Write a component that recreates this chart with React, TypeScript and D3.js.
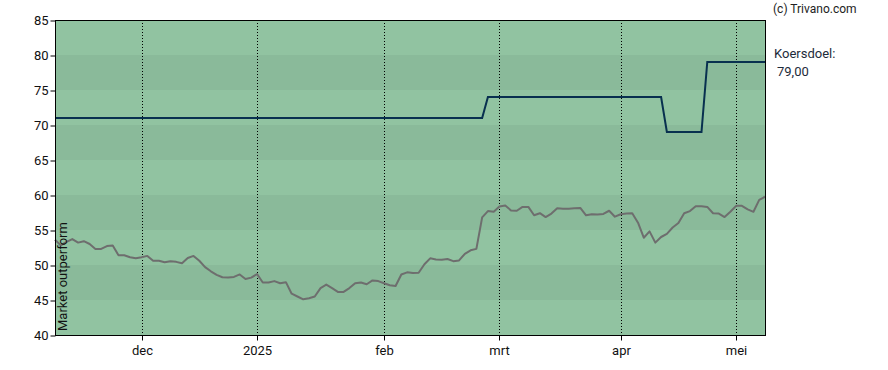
import React, { useEffect, useRef } from "react";
import * as d3 from "d3";

// one value per trading day (index 0 .. 123)
const priceValues = [
  53.6, 52.8, 53.3, 53.7, 53.2, 53.4, 53.0, 52.3, 52.3, 52.7,
  52.8, 51.4, 51.4, 51.1, 50.95, 51.1, 51.3, 50.6, 50.6, 50.4,
  50.55, 50.45, 50.25, 51.0, 51.3, 50.6, 49.7, 49.1, 48.6, 48.25,
  48.2, 48.3, 48.65, 48.0, 48.2, 48.7, 47.5, 47.5, 47.7, 47.4,
  47.55, 45.9, 45.5, 45.1, 45.25, 45.5, 46.7, 47.2, 46.7, 46.15,
  46.15, 46.7, 47.4, 47.5, 47.25, 47.8, 47.7, 47.4, 47.1, 47.0,
  48.65, 48.95, 48.85, 48.9, 50.1, 50.95, 50.8, 50.75, 50.85, 50.55,
  50.65, 51.6, 52.1, 52.3, 56.8, 57.7, 57.6, 58.35, 58.5, 57.8,
  57.75, 58.3, 58.3, 57.1, 57.4, 56.85, 57.35, 58.1, 58.05, 58.05,
  58.1, 58.15, 57.1, 57.25, 57.2, 57.3, 57.75, 56.9, 57.25, 57.35,
  57.4, 56.05, 53.9, 54.8, 53.2, 54.0, 54.45, 55.35, 56.0, 57.4,
  57.7, 58.4, 58.4, 58.3, 57.4, 57.35, 56.85, 57.6, 58.45, 58.45,
  57.95, 57.6, 59.3, 59.75,
];

// koersdoel (price target) change points: trading day index, value
const targetDays = [0, 74, 75, 105, 106, 112, 113, 123];
const targetValues = [71, 71, 74, 74, 69, 69, 79, 79];

const monthTickDays = [15, 35, 57, 77, 98, 118];
const monthLabels = ["dec", "2025", "feb", "mrt", "apr", "mei"];
const yTicks = [40, 45, 50, 55, 60, 65, 70, 75, 80, 85];

const lastTarget = "79,00";

export default function App() {
  const ref = useRef<SVGSVGElement>(null);

  useEffect(() => {
    const svg = d3.select(ref.current);
    svg.selectAll("*").remove();

    const left = 55, right = 765, top = 20, bottom = 335;
    const font = "Roboto, Arial, sans-serif";

    const x = d3.scaleLinear().domain([0, priceValues.length - 1]).range([left, right]);
    const y = d3.scaleLinear().domain([40, 85]).range([bottom, top]);

    // alternating horizontal bands
    const bands = d3.range(40, 85, 5);
    svg.selectAll(".band").data(bands).join("rect")
      .attr("class", "band")
      .attr("x", left)
      .attr("width", right - left)
      .attr("y", d => y(d + 5))
      .attr("height", d => y(d) - y(d + 5))
      .attr("fill", (d, i) => (i % 2 === 0 ? "#91c3a1" : "#8aba9a"));

    // dotted month gridlines
    svg.selectAll(".grid").data(monthTickDays).join("line")
      .attr("class", "grid")
      .attr("x1", d => Math.round(x(d)) + 0.5)
      .attr("x2", d => Math.round(x(d)) + 0.5)
      .attr("y1", top)
      .attr("y2", bottom)
      .attr("stroke", "#000")
      .attr("stroke-width", 1)
      .attr("stroke-dasharray", "1,2");

    // target line
    const targetLine = d3.line<number>()
      .x((d, i) => x(targetDays[i]))
      .y(d => y(d));
    svg.append("path")
      .attr("d", targetLine(targetValues))
      .attr("fill", "none")
      .attr("stroke", "#08304f")
      .attr("stroke-width", 2);

    // price line
    const priceLine = d3.line<number>()
      .x((d, i) => x(i))
      .y(d => y(d));
    svg.append("path")
      .attr("d", priceLine(priceValues))
      .attr("fill", "none")
      .attr("stroke", "#6e6e6e")
      .attr("stroke-width", 2)
      .attr("stroke-linejoin", "round");

    // frame
    svg.append("rect")
      .attr("x", left + 0.5)
      .attr("y", top + 0.5)
      .attr("width", right - left)
      .attr("height", bottom - top)
      .attr("fill", "none")
      .attr("stroke", "#000");

    // axes
    const yAxis = svg.append("g")
      .attr("transform", `translate(${left + 0.5},0.5)`)
      .call(d3.axisLeft(y).tickValues(yTicks).tickSize(5).tickPadding(2).tickFormat(d3.format("d")));
    yAxis.select(".domain").remove();

    const xAxis = svg.append("g")
      .attr("transform", `translate(0,${bottom + 0.5})`)
      .call(d3.axisBottom(x).tickValues(monthTickDays).tickSize(5).tickPadding(5)
        .tickFormat((d, i) => monthLabels[i]));
    xAxis.select(".domain").remove();
    xAxis.selectAll(".tick").attr("transform", d => `translate(${Math.round(x(d as number)) + 0.5},0)`);

    svg.selectAll(".tick text")
      .attr("font-family", font)
      .attr("font-size", 13)
      .attr("fill", "#111");
    svg.selectAll(".tick line").attr("stroke", "#000");

    svg.append("text")
      .attr("transform", `translate(67,331) rotate(-90)`)
      .attr("font-family", font)
      .attr("font-size", 13)
      .attr("fill", "#111")
      .text("Market outperform");

    svg.append("text")
      .attr("x", 773)
      .attr("y", 13)
      .attr("font-family", font)
      .attr("font-size", 12)
      .attr("fill", "#222")
      .text("(c) Trivano.com");

    svg.append("text")
      .attr("x", 774)
      .attr("y", 58)
      .attr("font-family", font)
      .attr("font-size", 13)
      .attr("fill", "#1d2b3a")
      .text("Koersdoel:");

    svg.append("text")
      .attr("x", 777)
      .attr("y", 76)
      .attr("font-family", font)
      .attr("font-size", 13)
      .attr("fill", "#1d2b3a")
      .text(lastTarget);
  }, []);

  return (
    <svg
      ref={ref}
      width={888}
      height={370}
      style={{ position: "absolute", left: 0, top: 0, background: "#fff" }}
    />
  );
}
